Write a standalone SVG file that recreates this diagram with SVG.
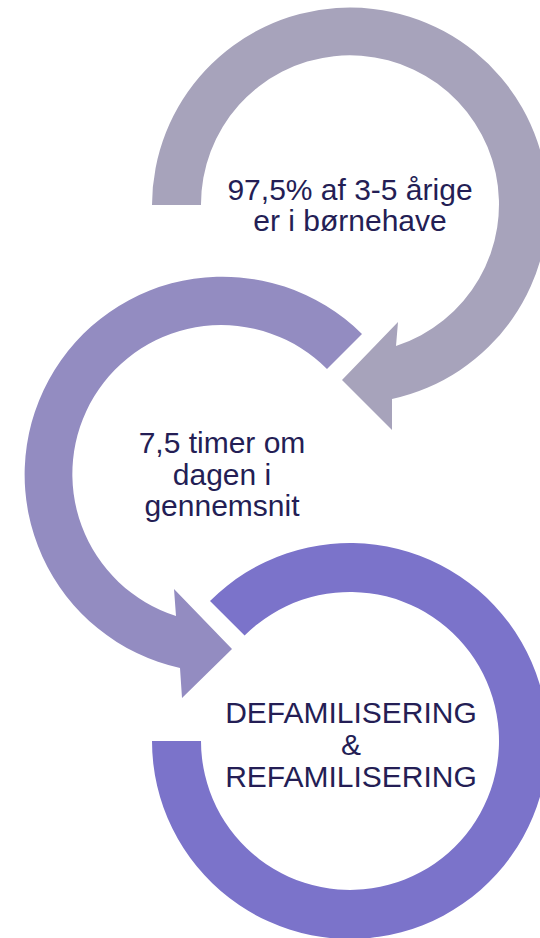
<svg xmlns="http://www.w3.org/2000/svg" width="540" height="938" viewBox="0 0 540 938">
<style>
.lbl{font-family:"Liberation Sans",Arial,Helvetica,sans-serif;font-size:30px;fill:#241E55;text-anchor:middle}
</style>
<rect width="540" height="938" fill="#ffffff"/>
<g id="connectors"></g>
<g id="node1">
<path fill="#A7A3BB" d="M152,205 A198,198 0 1 1 392,399 L392,430 L342,380 L398,322 L396,346 A149,149 0 1 0 201,205 Z"/>
<text class="lbl" x="350" y="200">97,5% af 3-5 årige</text>
<text class="lbl" x="350" y="231">er i børnehave</text>
</g>
<g id="node2">
<path fill="#938CC1" d="M362,334 A198,198 0 1 0 180,668 L182,698 L232,649 L174,589 L176,616 A149,149 0 1 1 327,369 Z"/>
<text class="lbl" x="222" y="453">7,5 timer om</text>
<text class="lbl" x="222" y="485">dagen i</text>
<text class="lbl" x="222" y="516">gennemsnit</text>
</g>
<g id="node3">
<path fill="#7B73CA" d="M210,601 A198,198 0 1 1 152,741 L201,741 A149,149 0 1 0 244.6,635.6 Z"/>
<text class="lbl" x="351" y="723">DEFAMILISERING</text>
<text class="lbl" x="351" y="755">&amp;</text>
<text class="lbl" x="351" y="787">REFAMILISERING</text>
</g>
</svg>
